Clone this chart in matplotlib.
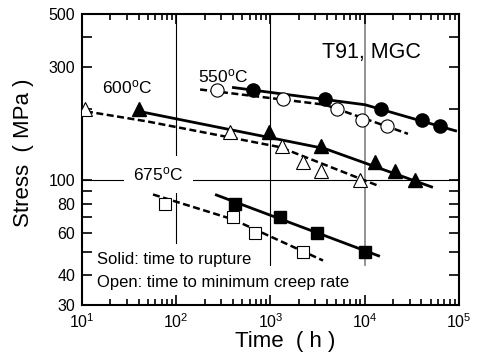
import matplotlib
matplotlib.use("Agg")
import matplotlib.pyplot as plt
from matplotlib.ticker import FixedLocator, FixedFormatter, LogLocator, NullFormatter

plt.rcParams['font.family'] = ['Liberation Sans', 'DejaVu Sans']
plt.rcParams['mathtext.fontset'] = 'custom'
plt.rcParams['mathtext.rm'] = 'Liberation Sans'
plt.rcParams['mathtext.it'] = 'Liberation Sans:italic'

# 550 C
t550_rup = [652, 3790, 14900, 40500, 62800]
s550_rup = [240, 220, 200, 180, 170]
t550_mcr = [270, 1360, 5080, 9360, 17200]
s550_mcr = [240, 220, 200, 180, 170]
fit550_rup_t = [391, 10070, 95300]
fit550_rup_s = [246, 208, 161]
fit550_mcr_t = [179, 3790, 28800]
fit550_mcr_s = [241, 208, 157]

# 600 C
t600_rup = [40.3, 964, 3440, 12900, 20900, 34100]
s600_rup = [200, 160, 140, 120, 110, 100]
t600_mcr = [10.7, 371, 1325, 2210, 3440, 8900]
s600_mcr = [200, 160, 140, 120, 110, 100]
fit600_rup_t = [40.3, 3790, 53000]
fit600_rup_s = [195, 136, 93.5]
fit600_mcr_t = [11.0, 49, 1263, 14500]
fit600_mcr_s = [195, 177, 138, 94.4]

# 675 C
t675_rup = [420, 1263, 3110, 10070]
s675_rup = [80, 70, 60, 50]
t675_mcr = [76, 400, 685, 2210]
s675_mcr = [80, 70, 60, 50]
fit675_rup_t = [258, 14500]
fit675_rup_s = [87.3, 48.0]
fit675_mcr_t = [56.6, 400, 3610]
fit675_mcr_s = [87.3, 68.6, 46.1]

y_ticks = [30, 40, 50, 60, 70, 80, 90, 100, 200, 300, 400, 500]
y_labels = ['30', '40', '', '60', '', '80', '', '100', '', '300', '', '500']

fig = plt.figure(figsize=(4.8, 3.6), dpi=100)
ax = fig.add_axes([0.171, 0.153, 0.785, 0.808])
ax.set_xscale('log')
ax.set_yscale('log')
ax.set_xlim(10, 1e5)
ax.set_ylim(30, 500)

# reference lines
ax.axvline(100, ymin=0.213, ymax=1, color='k', lw=0.8, zorder=1)
ax.axvline(1000, ymin=0.137, ymax=1, color='k', lw=0.8, zorder=1)
ax.axvline(10000, ymin=0.137, ymax=1, color='0.5', lw=1.2, zorder=1)
ax.axhline(100, color='k', lw=0.8, zorder=1)

dash = (2.8, 1.4)
sets = [
    (fit550_rup_t, fit550_rup_s, fit550_mcr_t, fit550_mcr_s,
     t550_rup, s550_rup, t550_mcr, s550_mcr, 'o', 9.5),
    (fit600_rup_t, fit600_rup_s, fit600_mcr_t, fit600_mcr_s,
     t600_rup, s600_rup, t600_mcr, s600_mcr, '^', 10),
    (fit675_rup_t, fit675_rup_s, fit675_mcr_t, fit675_mcr_s,
     t675_rup, s675_rup, t675_mcr, s675_mcr, 's', 8),
]
for frt, frs, fmt, fms, rt, rs, mt, ms, mk, sz in sets:
    ax.plot(frt, frs, color='k', lw=2, solid_capstyle='butt', zorder=2)
    ax.plot(fmt, fms, color='k', lw=1.8, dashes=dash, zorder=2)
    ax.plot(rt, rs, ls='none', marker=mk, ms=sz, mfc='k', mec='k', zorder=3)
    ax.plot(mt, ms, ls='none', marker=mk, ms=sz, mfc='white', mec='k',
            mew=0.8, zorder=3)

ax.text(170, 258, '550$^{\\mathrm{o}}$C', fontsize=12.5, va='baseline')
ax.text(16.4, 232, '600$^{\\mathrm{o}}$C', fontsize=12.5, va='baseline')
ax.text(35, 100, '675$^{\\mathrm{o}}$C', fontsize=12.5, va='baseline', zorder=1.5,
        bbox=dict(boxstyle='square,pad=0.55', fc='white', ec='none'))
ax.text(3520, 326, 'T91, MGC', fontsize=15.5, va='baseline')
ax.text(0.04, 0.141, 'Solid: time to rupture', transform=ax.transAxes,
        fontsize=12, va='baseline')
ax.text(0.04, 0.061, 'Open: time to minimum creep rate', transform=ax.transAxes,
        fontsize=12, va='baseline')

ax.yaxis.set_major_locator(FixedLocator(y_ticks))
ax.yaxis.set_major_formatter(FixedFormatter(y_labels))
ax.yaxis.set_minor_locator(FixedLocator([]))
ax.xaxis.set_major_locator(LogLocator(base=10, numticks=10))
ax.xaxis.set_minor_locator(LogLocator(base=10, subs=range(2, 10), numticks=10))
ax.xaxis.set_minor_formatter(NullFormatter())

ax.tick_params(which='both', direction='in', top=True, right=True,
               labelsize=11.5, width=1.2)
ax.tick_params(which='major', length=7, pad=5)
ax.tick_params(which='minor', length=4.5)
for sp in ax.spines.values():
    sp.set_linewidth(1.5)

ax.set_xlabel('Time  ( h )', fontsize=16)
ax.set_ylabel('Stress  ( MPa )', fontsize=16)
ax.xaxis.set_label_coords(0.54, -0.088)
ax.yaxis.set_label_coords(-0.127, 0.522)

fig.savefig('out.png', dpi=100)
